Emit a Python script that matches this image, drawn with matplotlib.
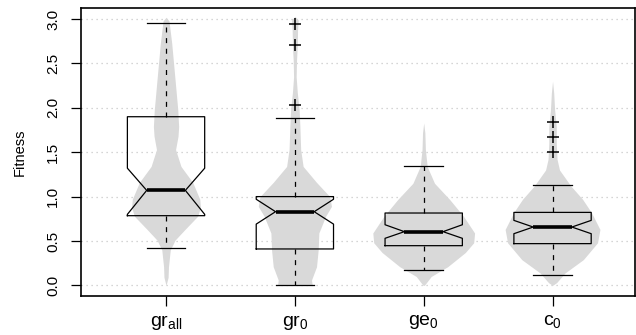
import matplotlib
matplotlib.use("Agg")
import matplotlib.pyplot as plt
import numpy as np

plt.rcParams["font.family"] = ["Liberation Sans", "DejaVu Sans"]
plt.rcParams["mathtext.fontset"] = "custom"
plt.rcParams["mathtext.rm"] = "Liberation Sans"
plt.rcParams["mathtext.it"] = "Liberation Sans:italic"

# groupes
labels = [r"gr$_\mathrm{all}$", r"gr$_\mathrm{0}$", r"ge$_\mathrm{0}$", r"c$_\mathrm{0}$"]

# statistiques des boites
whislo = [0.425, 0.0, 0.177, 0.12]
q1 = [0.785, 0.41, 0.447, 0.47]
med = [1.07, 0.83, 0.605, 0.657]
q3 = [1.90, 1.0, 0.815, 0.822]
whishi = [2.96, 1.89, 1.348, 1.13]
cilo = [0.80, 0.69, 0.53, 0.582]
cihi = [1.32, 0.97, 0.683, 0.732]
fliers = [[], [2.035, 2.71, 2.945], [], [1.506, 1.675, 1.843]]

# contours des violons : niveaux y et demi-largeurs
viol_y_grall = [0.00, 0.09, 0.21, 0.40, 0.51, 0.63, 0.78, 0.88, 0.97, 1.16, 1.34, 1.53, 1.68, 1.79, 1.98, 2.35, 2.73, 2.98, 3.02]
viol_w_grall = [0.0, 0.016, 0.019, 0.033, 0.07, 0.147, 0.246, 0.267, 0.262, 0.207, 0.116, 0.074, 0.093, 0.098, 0.091, 0.068, 0.044, 0.023, 0.0]
viol_y_gr0 = [0.00, 0.06, 0.21, 0.40, 0.59, 0.78, 0.89, 1.00, 1.16, 1.34, 1.53, 1.79, 1.98, 2.17, 2.35, 2.54, 2.71, 2.88, 2.99, 3.03]
viol_w_gr0 = [0.135, 0.129, 0.168, 0.181, 0.186, 0.239, 0.284, 0.271, 0.168, 0.064, 0.045, 0.039, 0.033, 0.019, 0.010, 0.013, 0.019, 0.021, 0.026, 0.0]
viol_y_ge0 = [0.00, 0.10, 0.21, 0.37, 0.48, 0.59, 0.78, 0.97, 1.15, 1.34, 1.53, 1.72, 1.83]
viol_w_ge0 = [0.005, 0.058, 0.186, 0.323, 0.388, 0.395, 0.308, 0.2, 0.084, 0.027, 0.013, 0.009, 0.0]
viol_y_c0 = [0.00, 0.03, 0.14, 0.29, 0.48, 0.63, 0.82, 0.97, 1.12, 1.30, 1.42, 1.60, 1.79, 1.98, 2.17, 2.30]
viol_w_c0 = [0.0, 0.031, 0.097, 0.239, 0.349, 0.368, 0.302, 0.233, 0.142, 0.054, 0.035, 0.029, 0.029, 0.016, 0.009, 0.0]

violins = [
    (viol_y_grall, viol_w_grall),
    (viol_y_gr0, viol_w_gr0),
    (viol_y_ge0, viol_w_ge0),
    (viol_y_c0, viol_w_c0),
]

fig = plt.figure(figsize=(6.36, 3.35), dpi=100)
ax = fig.add_axes([81 / 636, 1 - 296 / 335, (635 - 81) / 636, (296 - 8) / 335])

positions = np.arange(1, len(labels) + 1)

# grille
for yv in np.arange(0, 3.01, 0.5):
    ax.axhline(yv, color="#c8c8c8", lw=0.9, ls=(0, (1, 3)), zorder=0)

# violons
for pos, (vy, vw) in zip(positions, violins):
    vy = np.array(vy)
    vw = np.array(vw)
    ax.fill_betweenx(vy, pos - vw, pos + vw, color="#d9d9d9", lw=0, zorder=1)

stats = []
for i in range(len(labels)):
    stats.append({
        "whislo": whislo[i], "q1": q1[i], "med": med[i], "q3": q3[i], "whishi": whishi[i],
        "cilo": cilo[i], "cihi": cihi[i], "fliers": fliers[i], "label": labels[i],
    })

ax.bxp(
    stats, positions=positions, widths=0.6, shownotches=True, patch_artist=False,
    boxprops=dict(color="black", lw=0.9),
    whiskerprops=dict(color="black", lw=0.9, ls=(0, (4, 4.5))),
    capprops=dict(color="black", lw=0.9),
    medianprops=dict(color="black", lw=2.6, solid_capstyle="butt"),
    flierprops=dict(marker="+", markersize=9, markeredgewidth=1.1, markeredgecolor="black"),
    zorder=2,
)

ax.set_xlim(0.34, 4.64)
ax.set_ylim(-0.12, 3.125)
ax.set_yticks(np.arange(0, 3.01, 0.5))
ax.set_yticklabels([f"{v:.1f}" for v in np.arange(0, 3.01, 0.5)], rotation=90, va="center")
ax.set_xticks(positions)
ax.set_xticklabels(labels)
ax.tick_params(axis="y", length=7, width=0.9, pad=8, labelsize=11)
ax.tick_params(axis="x", length=7, width=0.9, pad=5, labelsize=14)
ax.set_ylabel("Fitness", fontsize=10.5)
ax.yaxis.set_label_coords(-0.098, 0.5)
for sp in ax.spines.values():
    sp.set_linewidth(1.2)

fig.savefig("out.png", dpi=100)
